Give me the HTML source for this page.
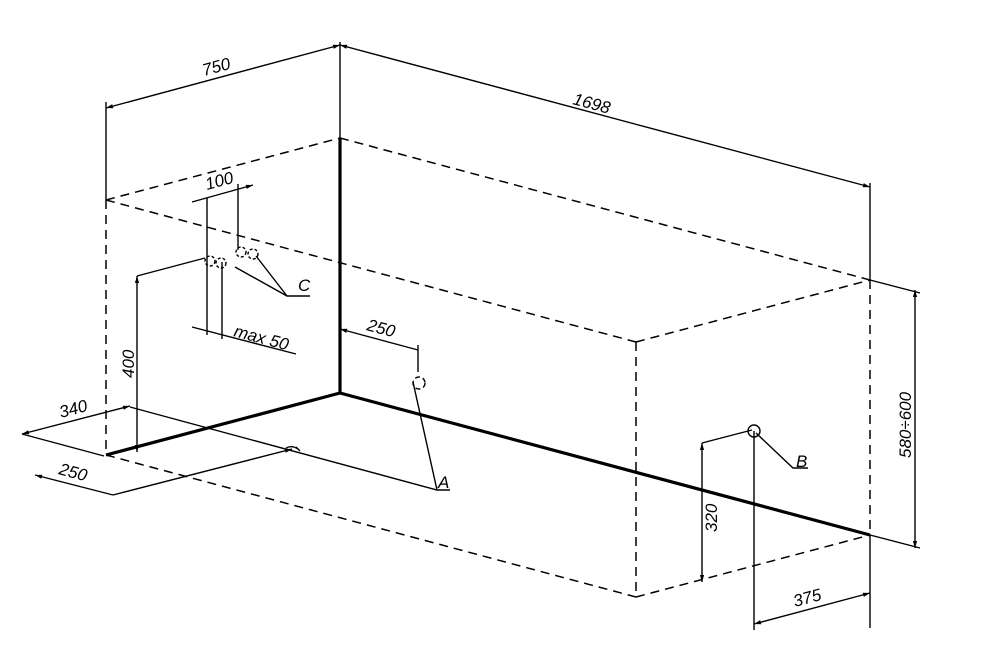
<!DOCTYPE html>
<html><head><meta charset="utf-8"><style>
html,body{margin:0;padding:0;background:#fff;}
svg{display:block;}
text{font-family:"Liberation Sans",sans-serif;font-style:italic;font-size:17px;fill:#000;}
</style></head><body>
<svg width="1000" height="652" viewBox="0 0 1000 652" xmlns="http://www.w3.org/2000/svg">
<defs>
<marker id="ar" viewBox="0 0 10 10" refX="10" refY="5" markerWidth="12" markerHeight="7" orient="auto-start-reverse" markerUnits="userSpaceOnUse"><path d="M0,2 L10,5 L0,8 z" fill="#000"/></marker>
</defs>
<g stroke="#000" fill="none">
<g stroke-width="1.5" stroke-dasharray="9,6">
<line x1="106" y1="200" x2="340" y2="138"/>
<line x1="106" y1="200" x2="636" y2="342"/>
<line x1="340" y1="138" x2="870" y2="280"/>
<line x1="636" y1="342" x2="870" y2="280"/>
<line x1="106" y1="200" x2="106" y2="455"/>
<line x1="636" y1="342" x2="636" y2="597"/>
<line x1="870" y1="280" x2="870" y2="535"/>
<line x1="106" y1="455" x2="636" y2="597"/>
<line x1="636" y1="597" x2="870" y2="535"/>
</g>
<g stroke-width="3.2">
<line x1="340" y1="138" x2="340" y2="393"/>
<line x1="106" y1="455" x2="340" y2="393"/>
<line x1="340" y1="393" x2="870" y2="535"/>
</g>
<g stroke-width="1.4">
<line x1="106" y1="102" x2="106" y2="200"/>
<line x1="340" y1="42" x2="340" y2="138"/>
<line x1="870" y1="183" x2="870" y2="280"/>
<line x1="870" y1="535" x2="870" y2="628"/>
<line x1="870" y1="280" x2="920" y2="293"/>
<line x1="870" y1="535" x2="920" y2="548"/>
<line x1="106" y1="108" x2="340" y2="45" marker-start="url(#ar)" marker-end="url(#ar)"/>
<line x1="340" y1="45" x2="870" y2="187" marker-start="url(#ar)" marker-end="url(#ar)"/>
<line x1="915" y1="290" x2="915" y2="548" marker-start="url(#ar)" marker-end="url(#ar)"/>
<circle cx="754" cy="431" r="6"/>
<line x1="754" y1="431" x2="754" y2="630"/>
<line x1="754" y1="624" x2="870" y2="593" marker-start="url(#ar)" marker-end="url(#ar)"/>
<line x1="702" y1="443" x2="752" y2="430"/>
<line x1="702" y1="443" x2="702" y2="582" marker-start="url(#ar)" marker-end="url(#ar)"/>
<polyline points="756,433 793,468 808,468"/>
<line x1="137" y1="276" x2="205" y2="258"/>
<line x1="137" y1="276" x2="137" y2="452" marker-start="url(#ar)" marker-end="url(#ar)"/>
<line x1="22" y1="434" x2="130" y2="406" marker-start="url(#ar)" marker-end="url(#ar)"/>
<line x1="22" y1="434" x2="104" y2="456"/>
<polyline points="130,407 437,490 450,490"/>
<line x1="35" y1="475" x2="113" y2="495" marker-start="url(#ar)"/>
<line x1="113" y1="495" x2="292" y2="449" marker-end="url(#ar)"/>
<path d="M286,448 q6,-3 12,1 M296,447 l4,4"/>
<line x1="340" y1="329" x2="418" y2="350" marker-start="url(#ar)"/>
<line x1="418" y1="345" x2="418" y2="372"/>
<circle cx="419" cy="383" r="6" stroke-dasharray="5,3"/>
<line x1="413" y1="382" x2="437" y2="490"/>
<line x1="207" y1="198" x2="207" y2="335"/>
<line x1="238" y1="184" x2="238" y2="250"/>
<line x1="192" y1="202" x2="253" y2="185" marker-end="url(#ar)"/>
<line x1="222" y1="262" x2="222" y2="339"/>
<line x1="192" y1="327" x2="296" y2="354"/>
<g stroke-dasharray="3,2">
<circle cx="210" cy="261" r="5"/><circle cx="221" cy="263" r="5"/>
<circle cx="241" cy="252" r="5"/><circle cx="253" cy="254" r="5"/>
</g>
<polyline points="235,267 287,296 310,296"/>
<line x1="287" y1="296" x2="256" y2="256"/>
</g>
</g>
<text transform="translate(204,76) rotate(-15)">750</text>
<text transform="translate(572,104) rotate(15)">1698</text>
<text transform="translate(911,458) rotate(-90)">580÷600</text>
<text transform="translate(795,607) rotate(-15)">375</text>
<text transform="translate(717,532) rotate(-90)">320</text>
<text x="796" y="467" font-size="19">B</text>
<text transform="translate(134,378) rotate(-90)">400</text>
<text transform="translate(61,418) rotate(-15)">340</text>
<text transform="translate(58,474) rotate(15)">250</text>
<text transform="translate(366,330) rotate(15)">250</text>
<text x="438" y="488" font-size="19">A</text>
<text transform="translate(207,190) rotate(-15)">100</text>
<text transform="translate(233,336) rotate(15)">max 50</text>
<text x="298" y="291" font-size="19">C</text>
</svg>
</body></html>
